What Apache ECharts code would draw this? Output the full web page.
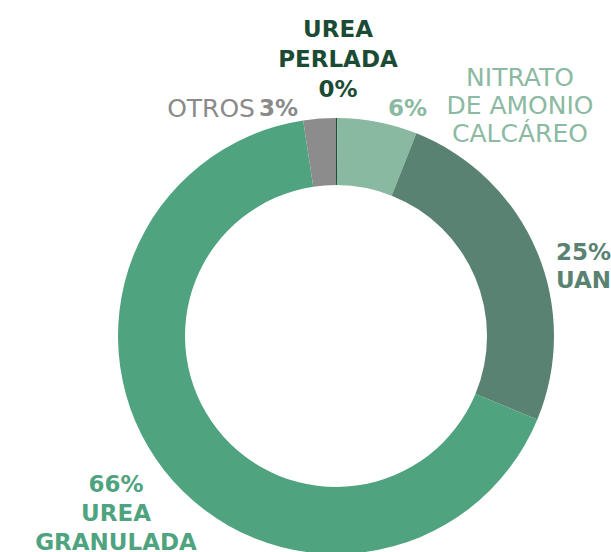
<!DOCTYPE html>
<html>
<head>
<meta charset="utf-8">
<script src="https://cdn.jsdelivr.net/npm/echarts@6/dist/echarts.min.js"></script>
<style>html,body{margin:0;padding:0;background:#fff}#c{width:611px;height:552px}</style>
</head>
<body>
<div id="c"></div>
<script>
var categories = ['UREA PERLADA', 'NITRATO DE AMONIO CALCÁREO', 'UAN', 'UREA GRANULADA', 'OTROS'];
var values = [0.1, 5.9, 25.2, 66.2, 2.4];
var pctLabels = ['0%', '6%', '25%', '66%', '3%'];
var colors = ['#1d4d37', '#8ab9a2', '#5a8272', '#4fa37f', '#8c8c8c'];
var labelColors = ['#1c4b35', '#8bb9a2', '#5a8272', '#4fa37f', '#8a8a8a'];

var chart = echarts.init(document.getElementById('c'), null, {renderer: 'svg'});
var FONT = '"DejaVu Sans"';
function t(text, x, y, align, font, color, lh) {
  return {type: 'text', style: {text: text, x: x, y: y, align: align, verticalAlign: 'middle',
    font: font + ' ' + FONT, fill: color, lineHeight: lh || 29}};
}
var graphics = [
  t('UREA\nPERLADA\n' + pctLabels[0], 338, 59, 'center', 'bold 23px', labelColors[0], 30),
  t(categories[1].replace(' DE ', '\nDE ').replace('AMONIO ', 'AMONIO\n'), 520, 105, 'center', 'normal 25px', labelColors[1], 28),
  t(pctLabels[1], 388, 108, 'left', 'bold 23px', labelColors[1]),
  t(pctLabels[2] + '\n' + categories[2], 556, 266, 'left', 'bold 23px', labelColors[2], 28),
  t(pctLabels[3] + '\n' + categories[3].replace(' ', '\n'), 116, 513, 'center', 'bold 23px', labelColors[3]),
  t(categories[4], 255, 108, 'right', 'normal 25px', labelColors[4]),
  t(pctLabels[4], 259, 108, 'left', 'bold 23px', labelColors[4])
];

chart.setOption({
  animation: false,
  backgroundColor: '#ffffff',
  graphic: graphics,
  series: [{
    type: 'pie',
    center: [336, 336],
    radius: [151, 218],
    startAngle: 90,
    clockwise: true,
    avoidLabelOverlap: false,
    label: {show: false},
    labelLine: {show: false},
    emphasis: {disabled: true},
    itemStyle: {borderWidth: 0},
    data: categories.map(function (c, i) {
      return {name: c, value: values[i], itemStyle: {color: colors[i]}};
    })
  }]
});
</script>
</body>
</html>
